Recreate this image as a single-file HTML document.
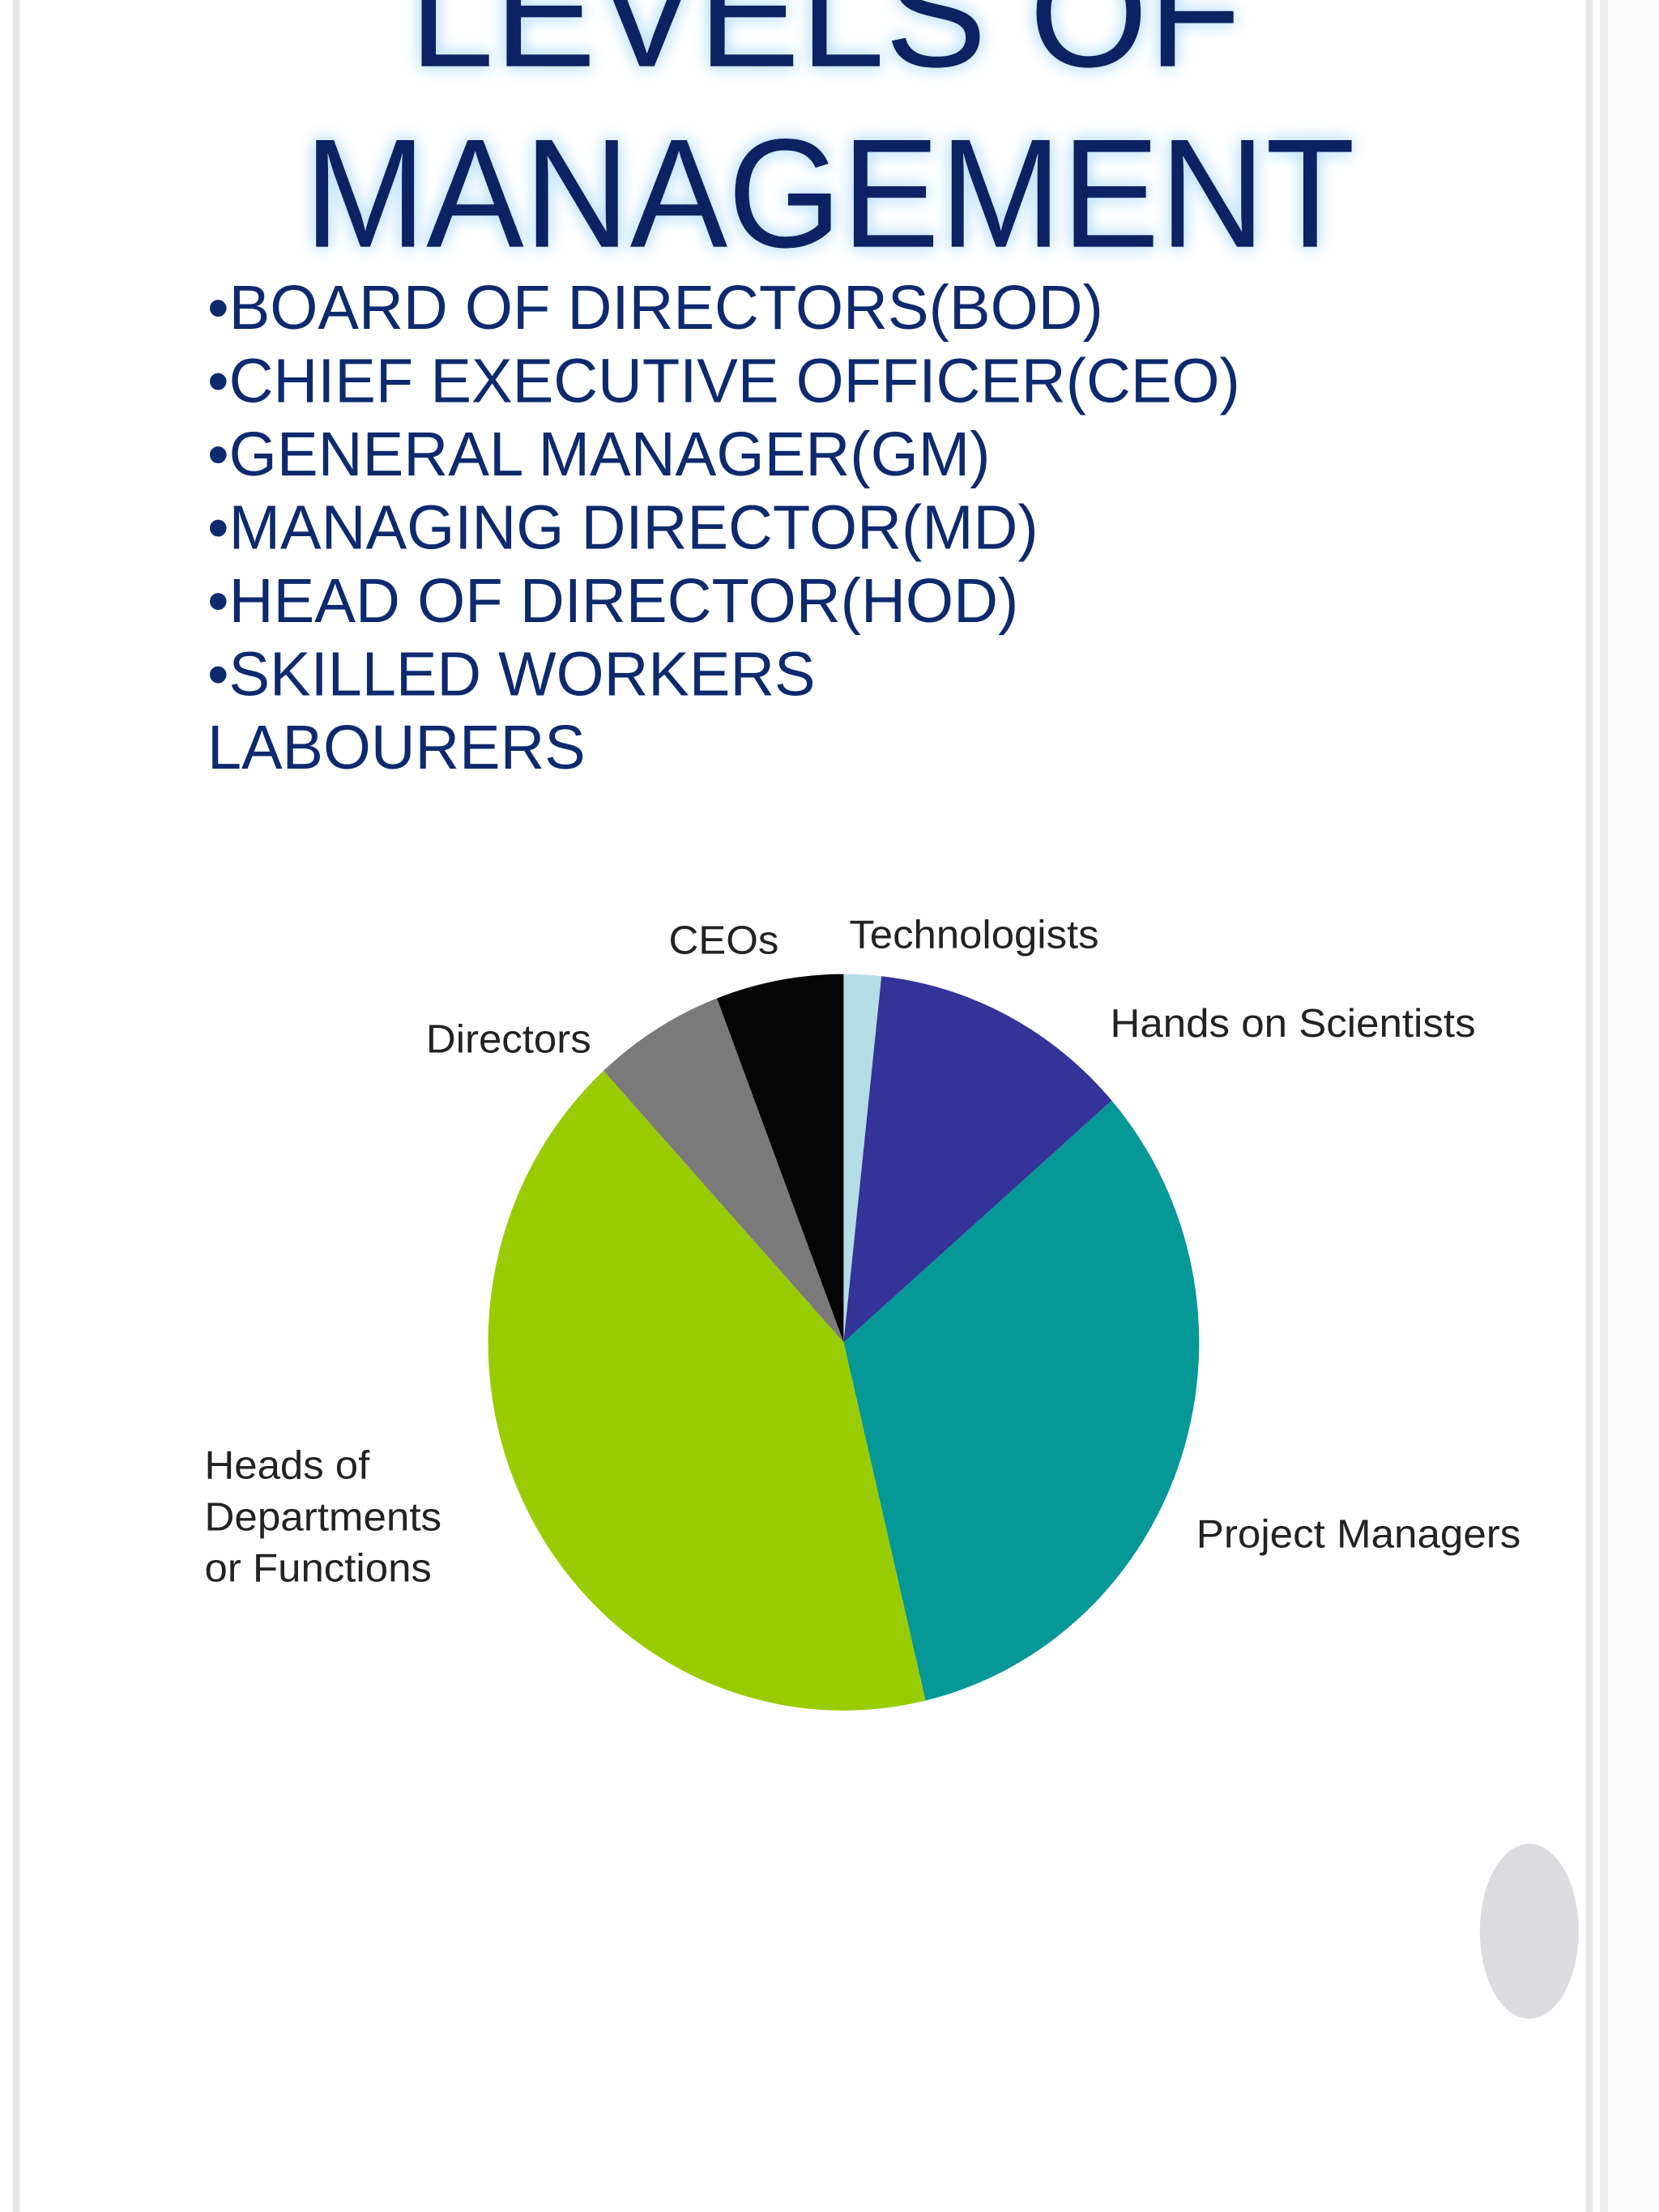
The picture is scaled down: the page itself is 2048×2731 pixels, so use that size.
<!DOCTYPE html>
<html><head><meta charset="utf-8">
<style>
html,body{margin:0;padding:0;background:#fff;}
svg{display:block;}
</style></head>
<body>
<svg width="2048" height="2731" viewBox="0 0 1176 1568" preserveAspectRatio="none" xmlns="http://www.w3.org/2000/svg">
<defs>
<filter id="glow" x="-10%" y="-30%" width="120%" height="160%">
<feGaussianBlur in="SourceAlpha" stdDeviation="6" result="b"/>
<feFlood flood-color="#bfe3fb"/>
<feComposite in2="b" operator="in" result="g"/>
<feMerge><feMergeNode in="g"/><feMergeNode in="g"/><feMergeNode in="SourceGraphic"/></feMerge>
</filter>
</defs>
<rect width="1176" height="1568" fill="#fff"/>
<rect x="9" y="0" width="5" height="1568" fill="#e6e6e8"/>
<rect x="1124" y="0" width="5" height="1568" fill="#e8e8ea"/>
<rect x="1134" y="0" width="6" height="1568" fill="#ececee"/>
<rect x="1140" y="0" width="36" height="1568" fill="#fafafa"/>
<g filter="url(#glow)" fill="#0b2463" font-family="Liberation Sans, sans-serif">
<text x="585" y="47" font-size="110" text-anchor="middle" textLength="590" lengthAdjust="spacingAndGlyphs">LEVELS  OF</text>
<text x="588" y="175" font-size="110" text-anchor="middle" textLength="745" lengthAdjust="spacingAndGlyphs">MANAGEMENT</text>
</g>
<g fill="#0d2a6e" font-family="Liberation Sans, sans-serif" font-size="44">
<text x="147" y="233" textLength="635" lengthAdjust="spacingAndGlyphs">•BOARD OF DIRECTORS(BOD)</text>
<text x="147" y="285" textLength="732" lengthAdjust="spacingAndGlyphs">•CHIEF EXECUTIVE OFFICER(CEO)</text>
<text x="147" y="337" textLength="555" lengthAdjust="spacingAndGlyphs">•GENERAL MANAGER(GM)</text>
<text x="147" y="389" textLength="589" lengthAdjust="spacingAndGlyphs">•MANAGING DIRECTOR(MD)</text>
<text x="147" y="441" textLength="575" lengthAdjust="spacingAndGlyphs">•HEAD OF DIRECTOR(HOD)</text>
<text x="147" y="493" textLength="431" lengthAdjust="spacingAndGlyphs">•SKILLED WORKERS</text>
<text x="147" y="545" textLength="268" lengthAdjust="spacingAndGlyphs">LABOURERS</text>
</g>
<g id="pie"></g>
<g fill="#222" font-family="Liberation Sans, sans-serif" font-size="28">
<text x="474" y="676" textLength="78" lengthAdjust="spacingAndGlyphs">CEOs</text>
<text x="602" y="672" textLength="177" lengthAdjust="spacingAndGlyphs">Technologists</text>
<text x="787" y="735" textLength="259" lengthAdjust="spacingAndGlyphs">Hands on Scientists</text>
<text x="302" y="746" textLength="117" lengthAdjust="spacingAndGlyphs">Directors</text>
<text x="848" y="1097" textLength="230" lengthAdjust="spacingAndGlyphs">Project Managers</text>
<text x="145" y="1048" textLength="117" lengthAdjust="spacingAndGlyphs">Heads of</text>
<text x="145" y="1085" textLength="168" lengthAdjust="spacingAndGlyphs">Departments</text>
<text x="145" y="1121" textLength="161" lengthAdjust="spacingAndGlyphs">or Functions</text>
</g>
<ellipse cx="1084" cy="1369" rx="35" ry="62" fill="#dcdce0"/>
</svg>
<script>
const categories = ["Technologists","Hands on Scientists","Project Managers","Heads of Departments or Functions","Directors","CEOs"];
const values = [1.7, 11.9, 32.7, 41.9, 6.0, 5.8];
const colors = ["#b4dde6","#333399","#069797","#99cc00","#7a7a7a","#050505"];
const cx = 598, cy = 951.5, rx = 252, ry = 261;
const g = document.getElementById('pie');
const total = values.reduce((a,b)=>a+b,0);
let a0 = 0;
function pt(a){ return [cx + rx*Math.sin(a), cy - ry*Math.cos(a)]; }
values.forEach((v,i)=>{
  const a1 = a0 + v/total*2*Math.PI;
  const p0 = pt(a0), p1 = pt(a1);
  const large = (a1-a0) > Math.PI ? 1 : 0;
  const path = document.createElementNS('http://www.w3.org/2000/svg','path');
  path.setAttribute('d', `M${cx},${cy} L${p0[0]},${p0[1]} A${rx},${ry} 0 ${large} 1 ${p1[0]},${p1[1]} Z`);
  path.setAttribute('fill', colors[i]);
  
  
  g.appendChild(path);
  a0 = a1;
});
</script>
</body></html>
